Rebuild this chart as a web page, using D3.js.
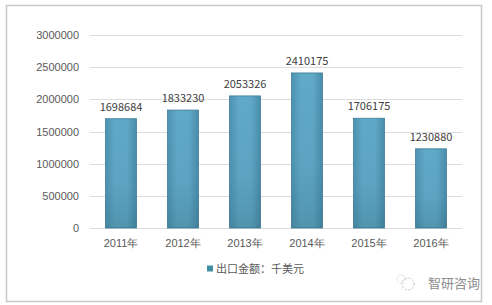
<!DOCTYPE html>
<html>
<head>
<meta charset="utf-8">
<script src="https://cdn.jsdelivr.net/npm/d3@7"></script>
<style>
  html, body { margin: 0; padding: 0; background: #fff; }
  svg { display: block; font-family: "Microsoft YaHei", "Noto Sans CJK SC", "DejaVu Sans", sans-serif; }
</style>
</head>
<body>
<svg id="chart" width="492" height="305"></svg>
<script>
// Export value by year, thousand USD
const years = ["2011年", "2012年", "2013年", "2014年", "2015年", "2016年"];
const exportValues = [1698684, 1833230, 2053326, 2410175, 1706175, 1230880];
const yTicks = [0, 500000, 1000000, 1500000, 2000000, 2500000, 3000000];
const legendLabel = "出口金额：千美元";
const brand = "智研咨询";

const svg = d3.select("#chart");

// Frame
svg.append("rect")
  .attr("x", 6.5).attr("y", 5.5).attr("width", 475).attr("height", 296)
  .attr("fill", "#fff").attr("stroke", "#c8c8c8").attr("stroke-width", 1.5);

const plot = { left: 90, right: 462, top: 35, bottom: 228 };

const x = d3.scaleBand().domain(years).range([plot.left, plot.right]).paddingInner(0.5).paddingOuter(0.25);
const y = d3.scaleLinear().domain([0, 3000000]).range([plot.bottom, plot.top]);

// Bar shading
const defs = svg.append("defs");
const hGrad = defs.append("linearGradient").attr("id", "barH").attr("x1", 0).attr("x2", 1).attr("y1", 0).attr("y2", 0);
hGrad.append("stop").attr("offset", "0%").attr("stop-color", "#4e93b1");
hGrad.append("stop").attr("offset", "30%").attr("stop-color", "#60a9c7");
hGrad.append("stop").attr("offset", "70%").attr("stop-color", "#5fa8c6");
hGrad.append("stop").attr("offset", "100%").attr("stop-color", "#4a8dab");
const vGrad = defs.append("linearGradient").attr("id", "barV").attr("x1", 0).attr("x2", 0).attr("y1", 0).attr("y2", 1);
vGrad.append("stop").attr("offset", "0%").attr("stop-color", "#1c4a5e").attr("stop-opacity", 0);
vGrad.append("stop").attr("offset", "60%").attr("stop-color", "#1c4a5e").attr("stop-opacity", 0.05);
vGrad.append("stop").attr("offset", "100%").attr("stop-color", "#1c4a5e").attr("stop-opacity", 0.22);

// Gridlines
svg.append("g").selectAll("line").data(yTicks).join("line")
  .attr("x1", plot.left).attr("x2", plot.right)
  .attr("y1", d => Math.round(y(d)) + 0.5).attr("y2", d => Math.round(y(d)) + 0.5)
  .attr("stroke", "#dcdcdc").attr("stroke-width", 1);

// Y axis labels
const yAxis = d3.axisLeft(y).tickValues(yTicks).tickSize(0).tickPadding(0).tickFormat(d3.format("d"));
const yg = svg.append("g").attr("transform", `translate(${plot.left - 11},0)`).call(yAxis);
yg.select(".domain").remove();
yg.selectAll("text").attr("fill", "#595959").style("font-size", "11px");

// X axis labels
const xAxis = d3.axisBottom(x).tickSize(0).tickPadding(0);
const xg = svg.append("g").attr("transform", `translate(0,${plot.bottom + 11})`).call(xAxis);
xg.select(".domain").remove();
xg.selectAll("text").attr("fill", "#595959").style("font-size", "11px");

// Bars
const bars = svg.append("g");
bars.selectAll("rect.bar").data(exportValues).join("rect")
  .attr("class", "bar")
  .attr("x", (d, i) => x(years[i]))
  .attr("y", d => y(d))
  .attr("width", x.bandwidth())
  .attr("height", d => plot.bottom - y(d))
  .attr("fill", "url(#barH)")
  .attr("stroke", "#3f7d98").attr("stroke-width", 0.8);
bars.selectAll("rect.shade").data(exportValues).join("rect")
  .attr("class", "shade")
  .attr("x", (d, i) => x(years[i]))
  .attr("y", d => y(d))
  .attr("width", x.bandwidth())
  .attr("height", d => plot.bottom - y(d))
  .attr("fill", "url(#barV)");

// Value labels
svg.append("g").selectAll("text").data(exportValues).join("text")
  .attr("x", (d, i) => x(years[i]) + x.bandwidth() / 2)
  .attr("y", d => y(d) - 8)
  .attr("text-anchor", "middle")
  .attr("fill", "#404040")
  .style("font-size", "11px")
  .text(d => d);

// Legend
const lg = svg.append("g").attr("transform", "translate(207,269)");
lg.append("rect").attr("x", 0).attr("y", -3.5).attr("width", 6).attr("height", 6).attr("fill", "#3f8fa3");
lg.append("text").attr("x", 9).attr("y", 0).attr("dy", "0.35em")
  .attr("fill", "#595959").style("font-size", "11px").text(legendLabel);

// Brand mark
const wm = svg.append("g").attr("transform", "translate(0,283)");
wm.append("circle").attr("cx", 408).attr("cy", 1).attr("r", 6)
  .attr("fill", "none").attr("stroke", "#c4c4c4").attr("stroke-width", 1).attr("stroke-dasharray", "2,1.5");
wm.append("circle").attr("cx", 401).attr("cy", -4).attr("r", 4)
  .attr("fill", "none").attr("stroke", "#d0d0d0").attr("stroke-width", 1).attr("stroke-dasharray", "1.5,1.5");
wm.append("text").attr("x", 428).attr("y", 0).attr("dy", "0.35em")
  .attr("fill", "#8c8c8c").style("font-size", "13px").text(brand);
</script>
</body>
</html>
